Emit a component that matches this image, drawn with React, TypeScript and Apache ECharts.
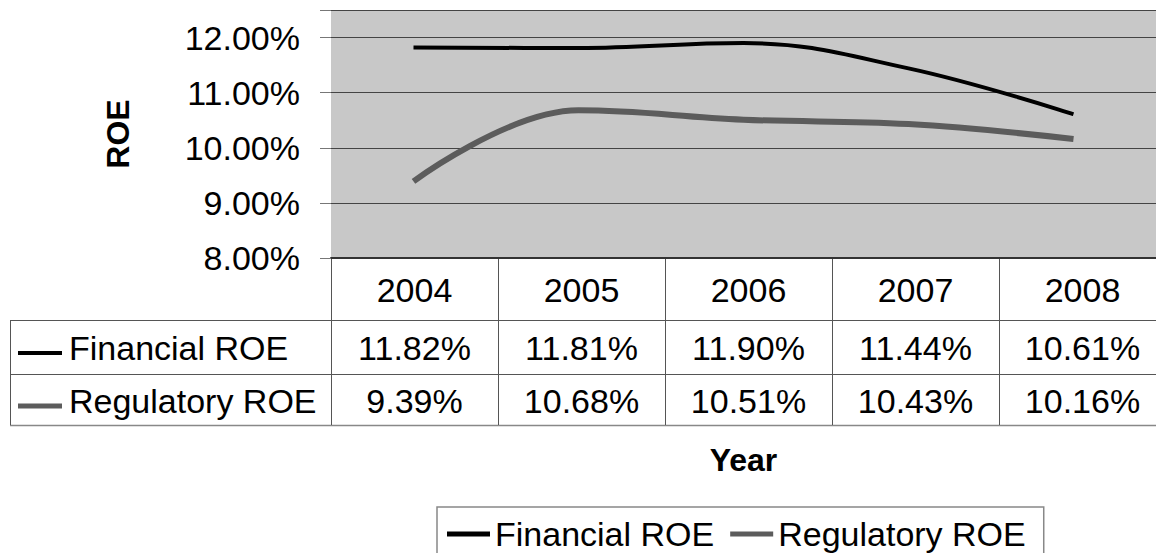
import React, { useEffect, useRef } from "react";
import * as echarts from "echarts";

const years = ["2004", "2005", "2006", "2007", "2008"];
const financialROE = [11.82, 11.81, 11.9, 11.44, 10.61];
const regulatoryROE = [9.39, 10.68, 10.51, 10.43, 10.16];
const seriesNames = ["Financial ROE", "Regulatory ROE"];
const yMin = 8;
const yMax = 12.5;
const yInterval = 1;

const FONT = "'Liberation Sans', Arial, sans-serif";
const FIN_COLOR = "#000000";
const REG_COLOR = "#5c5c5c";

export default function App() {
  const ref = useRef<HTMLDivElement>(null);

  useEffect(() => {
    if (!ref.current) return;
    const chart = echarts.init(ref.current, undefined, { renderer: "svg" });

    const gridLeft = 331;
    const gridTop = 10;
    const gridWidth = 835;
    const gridHeight = 248;
    const gridBottomY = gridTop + gridHeight;
    const colW = gridWidth / years.length;
    const tableLeft = 10;
    const tableRight = 1156;
    const headerBottom = 320;
    const row1Bottom = 374;
    const row2Bottom = 425;
    const lineColor = "#555";

    const graphics: any[] = [];
    [headerBottom, row1Bottom].forEach((y) => {
      graphics.push({
        type: "line",
        shape: { x1: tableLeft, y1: y + 0.5, x2: tableRight, y2: y + 0.5 },
        style: { stroke: lineColor, lineWidth: 1 },
        silent: true,
      });
    });
    graphics.push({
      type: "line",
      shape: { x1: tableLeft, y1: row2Bottom + 0.5, x2: tableRight, y2: row2Bottom + 0.5 },
      style: { stroke: "#888", lineWidth: 1.5 },
      silent: true,
    });
    graphics.push({
      type: "line",
      shape: { x1: tableLeft + 0.5, y1: headerBottom, x2: tableLeft + 0.5, y2: row2Bottom },
      style: { stroke: lineColor, lineWidth: 1 },
      silent: true,
    });
    for (let i = 0; i <= years.length; i++) {
      const x = Math.round(gridLeft + i * colW) + 0.5;
      graphics.push({
        type: "line",
        shape: { x1: x, y1: gridBottomY, x2: x, y2: row2Bottom },
        style: { stroke: lineColor, lineWidth: 1 },
        silent: true,
      });
    }
    const textStyle = (text: string, x: number, y: number, align = "center") => ({
      type: "text",
      x,
      y,
      style: {
        text,
        fill: "#000",
        font: `34px ${FONT}`,
        textAlign: align,
        textVerticalAlign: "middle",
      },
      silent: true,
    });
    years.forEach((yr, i) => {
      const cx = gridLeft + (i + 0.5) * colW;
      graphics.push(textStyle(yr, cx, 290));
      graphics.push(textStyle(financialROE[i].toFixed(2) + "%", cx, 348));
      graphics.push(textStyle(regulatoryROE[i].toFixed(2) + "%", cx, 401));
    });
    const rows = [
      { name: seriesNames[0], y: 348, color: FIN_COLOR, w: 4 },
      { name: seriesNames[1], y: 401, color: REG_COLOR, w: 5 },
    ];
    rows.forEach((r) => {
      graphics.push({
        type: "line",
        shape: { x1: 18, y1: r.y + 5, x2: 62, y2: r.y + 5 },
        style: { stroke: r.color, lineWidth: r.w },
        silent: true,
      });
      graphics.push(textStyle(r.name, 69, r.y, "left"));
    });

    chart.setOption({
      animation: false,
      backgroundColor: "#ffffff",
      textStyle: { fontFamily: FONT },
      grid: {
        left: gridLeft,
        top: gridTop,
        width: gridWidth,
        height: gridHeight,
        show: true,
        backgroundColor: "#c8c8c8",
        borderWidth: 0,
        containLabel: false,
      },
      legend: {
        data: [
          { name: seriesNames[0], icon: "rect", itemStyle: { color: FIN_COLOR } },
          { name: seriesNames[1], icon: "rect", itemStyle: { color: REG_COLOR } },
        ],
        left: 437,
        top: 507,
        orient: "horizontal",
        itemWidth: 43,
        itemHeight: 5,
        itemGap: 16,
        padding: [10, 18, 30, 10],
        borderColor: "#888",
        borderWidth: 1.5,
        textStyle: { fontSize: 34, color: "#000", fontFamily: FONT },
      },
      xAxis: {
        type: "category",
        data: years,
        boundaryGap: true,
        axisLabel: { show: false },
        axisTick: { show: false },
        axisLine: { show: true, lineStyle: { color: "#333", width: 2 } },
        splitLine: { show: false },
        name: "Year",
        nameLocation: "middle",
        nameGap: 186,
        nameTextStyle: { fontSize: 32, fontWeight: "bold", color: "#000", fontFamily: FONT },
      },
      yAxis: {
        type: "value",
        min: yMin,
        max: yMax,
        interval: yInterval,
        axisLine: { show: false },
        axisTick: { show: true, length: 11, lineStyle: { color: "#777", width: 1 } },
        axisLabel: {
          margin: 31,
          fontSize: 34,
          color: "#000",
          fontFamily: FONT,
          formatter: (v: number) => (Math.abs(v - Math.round(v)) < 1e-9 ? v.toFixed(2) + "%" : ""),
        },
        splitLine: { show: true, lineStyle: { color: "#444", width: 1 } },
        name: "ROE",
        nameLocation: "middle",
        nameGap: 197,
        nameRotate: 90,
        nameTextStyle: { fontSize: 32, fontWeight: "bold", color: "#000", fontFamily: FONT },
      },
      series: [
        {
          name: seriesNames[0],
          type: "line",
          data: financialROE,
          smooth: 0.4,
          symbol: "none",
          lineStyle: { color: FIN_COLOR, width: 4 },
          itemStyle: { color: FIN_COLOR },
        },
        {
          name: seriesNames[1],
          type: "line",
          data: regulatoryROE,
          smooth: 0.4,
          symbol: "none",
          lineStyle: { color: REG_COLOR, width: 6 },
          itemStyle: { color: REG_COLOR },
        },
      ],
      graphic: graphics,
    });

    return () => chart.dispose();
  }, []);

  return (
    <div
      ref={ref}
      style={{ position: "fixed", left: 0, top: 0, width: 1156, height: 553, background: "#fff" }}
    />
  );
}
